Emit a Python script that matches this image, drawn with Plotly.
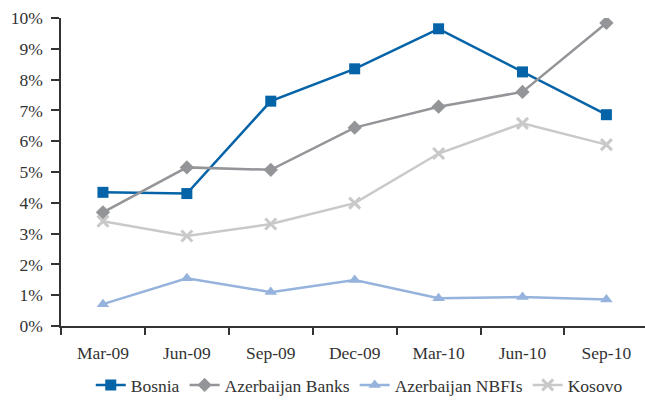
import plotly.graph_objects as go

categories = ["Mar-09", "Jun-09", "Sep-09", "Dec-09", "Mar-10", "Jun-10", "Sep-10"]
bosnia = [4.34, 4.30, 7.30, 8.35, 9.65, 8.25, 6.86]
azer_banks = [3.69, 5.15, 5.07, 6.44, 7.12, 7.60, 9.84]
azer_nbfis = [0.71, 1.55, 1.10, 1.49, 0.90, 0.94, 0.86]
kosovo = [3.40, 2.92, 3.31, 3.99, 5.60, 6.58, 5.89]
y_ticks = [0, 1, 2, 3, 4, 5, 6, 7, 8, 9, 10]
y_tick_labels = [f"{v}%" for v in y_ticks]

FONT = "Liberation Serif"
TXT = "#333333"

fig = go.Figure()
fig.add_trace(go.Scatter(x=categories, y=bosnia, name="Bosnia", mode="lines+markers",
                         line=dict(color="#0563A8", width=2.5),
                         marker=dict(symbol="square", size=11, color="#0563A8")))
fig.add_trace(go.Scatter(x=categories, y=azer_banks, name="Azerbaijan Banks", mode="lines+markers",
                         line=dict(color="#939598", width=2.5),
                         marker=dict(symbol="diamond", size=11, color="#939598")))
fig.add_trace(go.Scatter(x=categories, y=azer_nbfis, name="Azerbaijan NBFIs", mode="lines+markers",
                         line=dict(color="#95B3DC", width=2.5),
                         marker=dict(symbol="triangle-up", size=11, color="#95B3DC")))
fig.add_trace(go.Scatter(x=categories, y=kosovo, name="Kosovo", mode="lines+markers",
                         line=dict(color="#C9C9CA", width=2.5),
                         marker=dict(symbol="x-thin", size=11, color="#C9C9CA",
                                     line=dict(color="#C9C9CA", width=3))))

fig.update_layout(
    width=645, height=403,
    margin=dict(l=61, r=0, t=18, b=77),
    paper_bgcolor="white", plot_bgcolor="white",
    font=dict(family=FONT, size=17, color=TXT),
    showlegend=True,
    legend=dict(orientation="h", x=0.557, xanchor="center", xref="container",
                y=0.0, yanchor="bottom", yref="container",
                font=dict(family=FONT, size=17.5, color=TXT), itemwidth=30,
                tracegroupgap=0),
    xaxis=dict(type="category", range=[-0.5, 6.46], showgrid=False, showline=True,
               automargin=False,
               linecolor="#333333", linewidth=1.5, ticks="outside", ticklen=7,
               tickcolor="#333333", tickwidth=1.5, tickson="boundaries",
               ticklabelstandoff=10,
               tickfont=dict(family=FONT, size=17.5, color=TXT)),
    yaxis=dict(range=[0, 10], tickvals=y_ticks, ticktext=y_tick_labels, showgrid=False,
               automargin=False,
               zeroline=False, showline=True, linecolor="#333333", linewidth=1.5,
               ticks="outside", ticklen=8, tickcolor="#333333", tickwidth=1.5,
               ticklabelstandoff=5,
               tickfont=dict(family=FONT, size=17.5, color=TXT)),
)

fig.write_html("out.html", config={"displayModeBar": False},
               post_script="document.body.style.margin='0';")
